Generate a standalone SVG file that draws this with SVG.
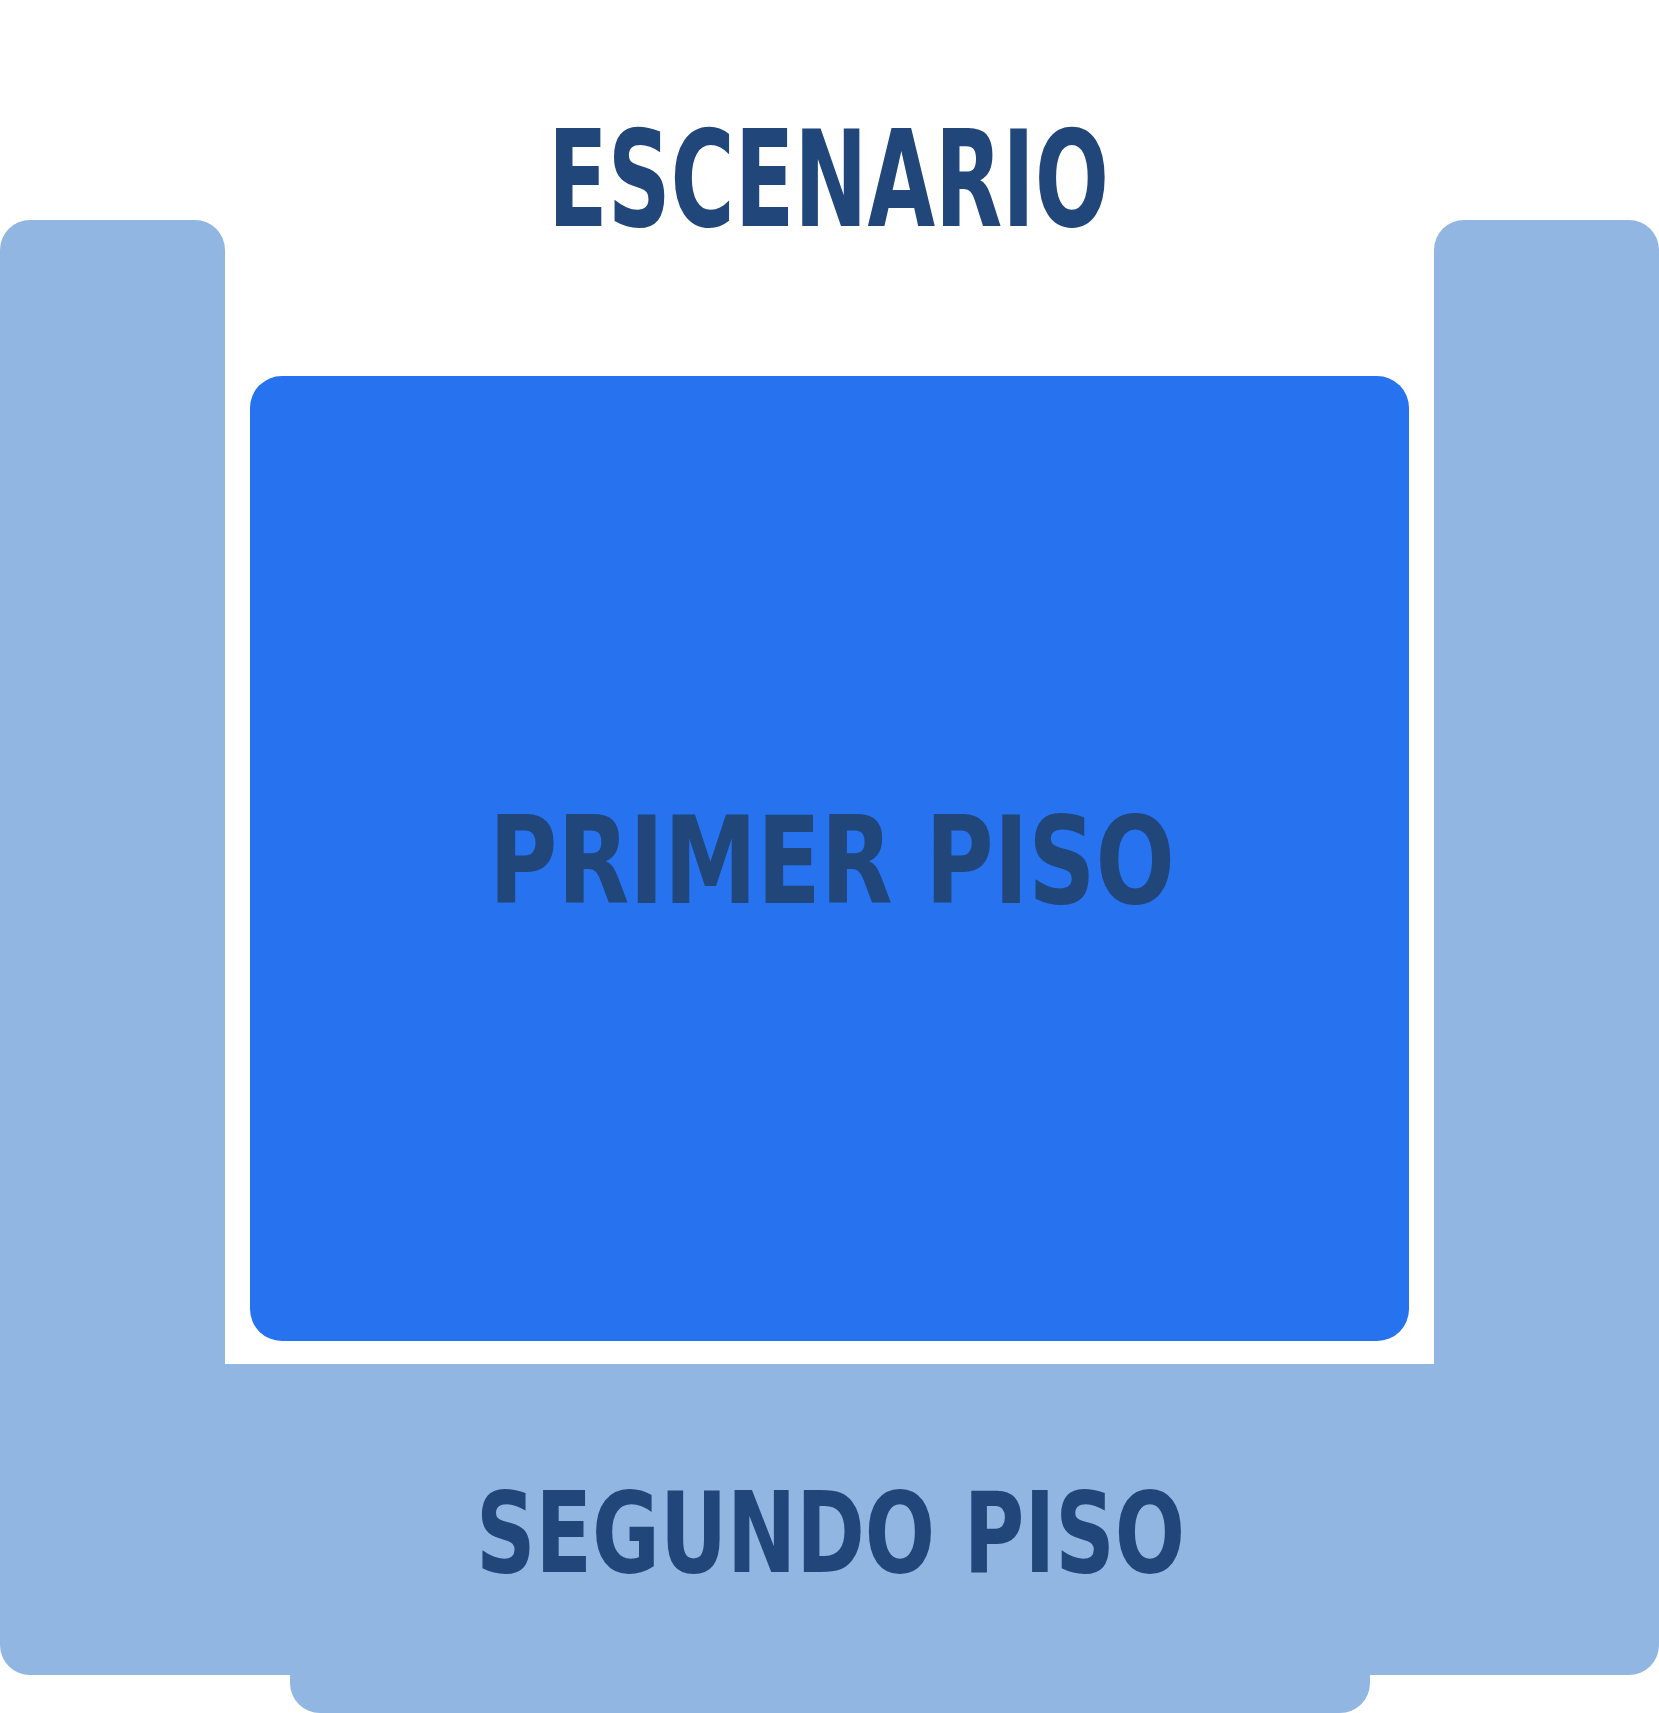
<svg xmlns="http://www.w3.org/2000/svg" width="1659" height="1713" viewBox="0 0 1659 1713">
  <style>
    .lbl { font-family: "DejaVu Sans Condensed", "DejaVu Sans", sans-serif; font-weight: bold; fill: #214679; }
    .seg { fill: #92B6E2; }
    .prim { fill: #2672EF; }
    .stage { fill: #FFFFFF; }
  </style>
  <rect x="0" y="0" width="1659" height="1713" fill="#FFFFFF"/>
  <g id="escenario">
    <path class="stage" d="M331,0 H1328 A21,21 0 0 1 1349,21 V178 A21,21 0 0 0 1370,199 H1388 A21,21 0 0 1 1409,220 V315 A21,21 0 0 1 1388,336 H271 A21,21 0 0 1 250,315 V220 A21,21 0 0 1 271,199 H289 A21,21 0 0 0 310,178 V21 A21,21 0 0 1 331,0 Z"/>
    <text class="lbl" x="548" y="226" font-size="134" textLength="561" lengthAdjust="spacingAndGlyphs">ESCENARIO</text>
  </g>
  <g id="segundo-piso">
    <path class="seg" d="M0,250 A30,30 0 0 1 30,220 H195 A30,30 0 0 1 225,250 V1364 H1434 V250 A30,30 0 0 1 1464,220 H1629 A30,30 0 0 1 1659,250 V1645 A30,30 0 0 1 1629,1675 H1370 V1683 A30,30 0 0 1 1340,1713 H320 A30,30 0 0 1 290,1683 V1675 H30 A30,30 0 0 1 0,1645 Z"/>
    <text class="lbl" x="476" y="1572" font-size="112" textLength="709" lengthAdjust="spacingAndGlyphs">SEGUNDO PISO</text>
  </g>
  <g id="primer-piso">
    <rect class="prim" x="250" y="376" width="1159" height="965" rx="32" ry="32"/>
    <text class="lbl" x="489" y="903" font-size="122" textLength="686" lengthAdjust="spacingAndGlyphs">PRIMER PISO</text>
  </g>
  <g id="connectors"/>
</svg>
